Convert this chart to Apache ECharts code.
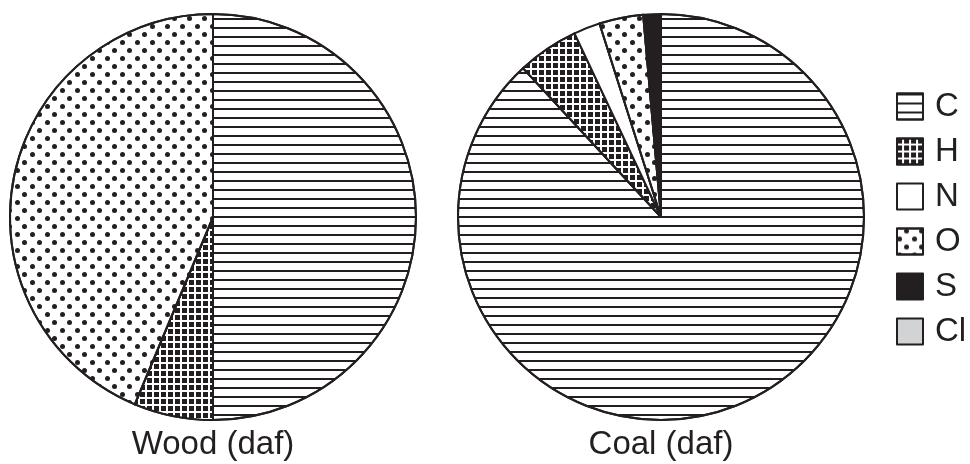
<!DOCTYPE html>
<html>
<head>
<meta charset="utf-8">
<script src="https://cdn.jsdelivr.net/npm/echarts@6/dist/echarts.min.js"></script>
<style>
html,body{margin:0;padding:0;background:#fff;}
#chart{width:970px;height:464px;}
</style>
</head>
<body>
<div id="chart"></div>
<script>
// ---- data ----
const elements = ['C', 'H', 'N', 'O', 'S', 'Cl'];
const woodValues = [50.0, 6.3, 0, 43.7, 0, 0];
const coalValues = [88.1, 4.9, 2.1, 3.5, 1.4, 0];
const pieTitles = ['Wood (daf)', 'Coal (daf)'];

// ---- styles ----
const INK = '#231f20';
const styles = {
  C: { color: '#ffffff', decal: { symbol: 'rect', symbolSize: 1, color: INK, dashArrayX: [1, 0], dashArrayY: [2, 7] } },
  H: { color: '#ffffff', decal: { symbol: 'rect', symbolSize: 1, color: INK, dashArrayX: [5, 2], dashArrayY: [5, 2] } },
  N: { color: '#ffffff' },
  O: { color: '#ffffff', decal: { symbol: 'circle', symbolSize: 1, color: INK, dashArrayX: [[5, 10], [0, 7, 5, 3]], dashArrayY: [5, 3] } },
  S: { color: INK },
  Cl: { color: '#d1d3d4' }
};

function buildData(values) {
  return elements.map((name, i) => {
    const st = styles[name];
    const itemStyle = { color: st.color, borderColor: INK, borderWidth: 2 };
    if (st.decal) itemStyle.decal = st.decal;
    return { name: name, value: values[i], itemStyle: itemStyle };
  });
}

const chart = echarts.init(document.getElementById('chart'), null, { renderer: 'canvas' });
const pieCommon = {
  type: 'pie',
  radius: 203,
  startAngle: 90,
  clockwise: true,
  label: { show: false },
  labelLine: { show: false },
  emphasis: { disabled: true },
  silent: true,
  avoidLabelOverlap: false
};
chart.setOption({
  animation: false,
  backgroundColor: '#ffffff',
  legend: {
    orient: 'vertical',
    left: 896,
    top: 90,
    padding: 0,
    itemWidth: 26,
    itemHeight: 26,
    itemGap: 12,
    icon: 'rect',
    data: elements,
    selectedMode: false,
    textStyle: { fontSize: 33, lineHeight: 26, color: INK, fontFamily: 'Liberation Sans', padding: [0, 0, 0, 7] }
  },
  graphic: [
    { type: 'text', x: 213, y: 445, style: { text: pieTitles[0], fill: INK, font: '33px "Liberation Sans"', textAlign: 'center', textVerticalAlign: 'middle' } },
    { type: 'text', x: 661, y: 445, style: { text: pieTitles[1], fill: INK, font: '33px "Liberation Sans"', textAlign: 'center', textVerticalAlign: 'middle' } }
  ],
  series: [
    Object.assign({}, pieCommon, { name: pieTitles[0], center: [213, 217], data: buildData(woodValues) }),
    Object.assign({}, pieCommon, { name: pieTitles[1], center: [661, 217], data: buildData(coalValues) })
  ]
});
</script>
</body>
</html>
